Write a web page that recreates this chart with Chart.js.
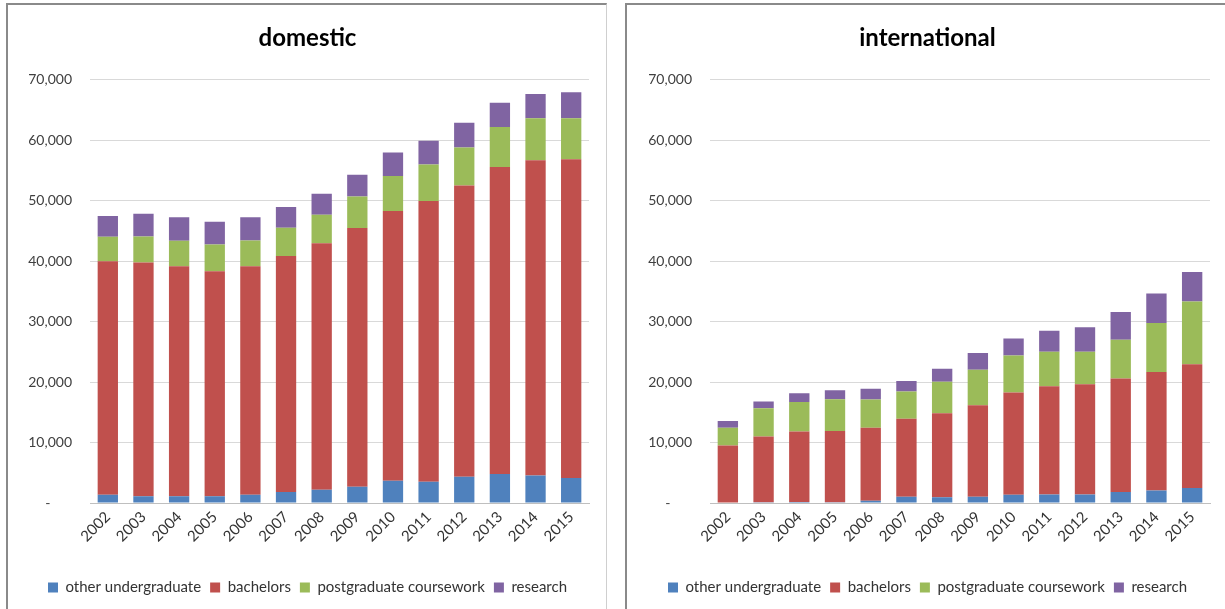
<!DOCTYPE html>
<html>
<head>
<meta charset="utf-8">
<script src="https://cdn.jsdelivr.net/npm/chart.js@4.4.1/dist/chart.umd.min.js"></script>
<style>
  html, body { margin: 0; padding: 0; background: #fff; width: 1225px; height: 609px; overflow: hidden; }
  .panel { position: absolute; box-sizing: border-box; background: #fff;
           border-left: 2px solid #8a8a8a; border-top: 2px solid #8a8a8a; border-right: 1px solid #cfcfcf; }
  #p1 { left: 6px; top: 3px; width: 601px; height: 620px; }
  #p2 { left: 625px; top: 3px; width: 620px; height: 620px; }
  canvas { position: absolute; }
  #c1 { left: 0px; top: 0px; }
  #c2 { left: 0px; top: 0px; }
</style>
</head>
<body>
<div class="panel" id="p1"><canvas id="c1"></canvas></div>
<div class="panel" id="p2"><canvas id="c2"></canvas></div>
<script>
// ---- data ----
const years = ['2002','2003','2004','2005','2006','2007','2008','2009','2010','2011','2012','2013','2014','2015'];
const seriesNames = ['other undergraduate', 'bachelors', 'postgraduate coursework', 'research'];

const domOther = [1370, 1130, 1130, 1130, 1370, 1800, 2190, 2700, 3690, 3530, 4360, 4800, 4530, 4130];
const domBach  = [38620, 38630, 38020, 37190, 37780, 39070, 40790, 42780, 44620, 46440, 48160, 50770, 52150, 52720];
const domPost  = [4040, 4325, 4220, 4430, 4270, 4660, 4710, 5210, 5760, 6000, 6280, 6610, 6940, 6770];
const domRes   = [3450, 3775, 3880, 3780, 3830, 3440, 3450, 3610, 3890, 3930, 4100, 4040, 4050, 4330];

const intOther = [0, 130, 170, 130, 370, 1030, 970, 1030, 1370, 1400, 1400, 1830, 2050, 2500];
const intBach  = [9500, 10880, 11670, 11770, 12080, 12910, 13870, 15140, 16900, 17930, 18260, 18770, 19610, 20430];
const intPost  = [2930, 4660, 4880, 5270, 4670, 4500, 5210, 5880, 6110, 5670, 5340, 6400, 8110, 10390];
const intRes   = [1130, 1100, 1450, 1500, 1770, 1730, 2160, 2780, 2830, 3480, 4090, 4580, 4880, 4870];

const yMax = 70000;
const yStep = 10000;

// ---- styling ----
const colors = ['#4F81BD', '#C0504D', '#9BBB59', '#8064A2'];
const FONT = 'Lato, "Open Sans", sans-serif';

function makeChart(id, w, h, title, arrays, padL, padR, yWidth) {
  const cv = document.getElementById(id);
  cv.width = w; cv.height = h;
  cv.style.width = w + 'px'; cv.style.height = h + 'px';
  return new Chart(cv, {
    type: 'bar',
    data: {
      labels: years,
      datasets: arrays.map((arr, i) => ({
        label: seriesNames[i],
        data: arr,
        backgroundColor: colors[i],
        borderWidth: 0,
        barPercentage: 0.57,
        categoryPercentage: 1.0
      }))
    },
    options: {
      responsive: false,
      animation: false,
      devicePixelRatio: 1,
      layout: { padding: { left: padL, right: padR, top: 0, bottom: 6 } },
      plugins: {
        title: {
          display: true, text: title, color: '#000',
          font: { family: FONT, size: 24, weight: 'bold' },
          padding: { top: 19, bottom: 27 }
        },
        legend: {
          position: 'bottom',
          labels: {
            color: '#333333', boxWidth: 10, boxHeight: 10, padding: 9,
            font: { family: FONT, size: 15 }
          }
        },
        tooltip: { enabled: false }
      },
      scales: {
        x: {
          stacked: true,
          grid: { display: false, drawTicks: false },
          border: { display: true, color: '#bfbfbf', width: 1 },
          ticks: {
            color: '#333333', maxRotation: 45, minRotation: 45, padding: 5,
            font: { family: FONT, size: 15 }
          },
          afterFit: s => { s.height = 68; }
        },
        y: {
          stacked: true, min: 0, max: yMax,
          grid: { color: '#d9d9d9', lineWidth: 1, drawTicks: false },
          border: { display: false },
          ticks: {
            stepSize: yStep, padding: 18, color: '#404040',
            font: { family: FONT, size: 14 },
            callback: v => v === 0 ? '-      ' : v.toLocaleString('en-US')
          },
          afterFit: s => { s.width = yWidth; }
        }
      }
    }
  });
}

makeChart('c1', 599, 606, 'domestic', [domOther, domBach, domPost, domRes], 18, 18, 64);
makeChart('c2', 600, 606, 'international', [intOther, intBach, intPost, intRes], 18, 17, 65);
</script>
</body>
</html>
